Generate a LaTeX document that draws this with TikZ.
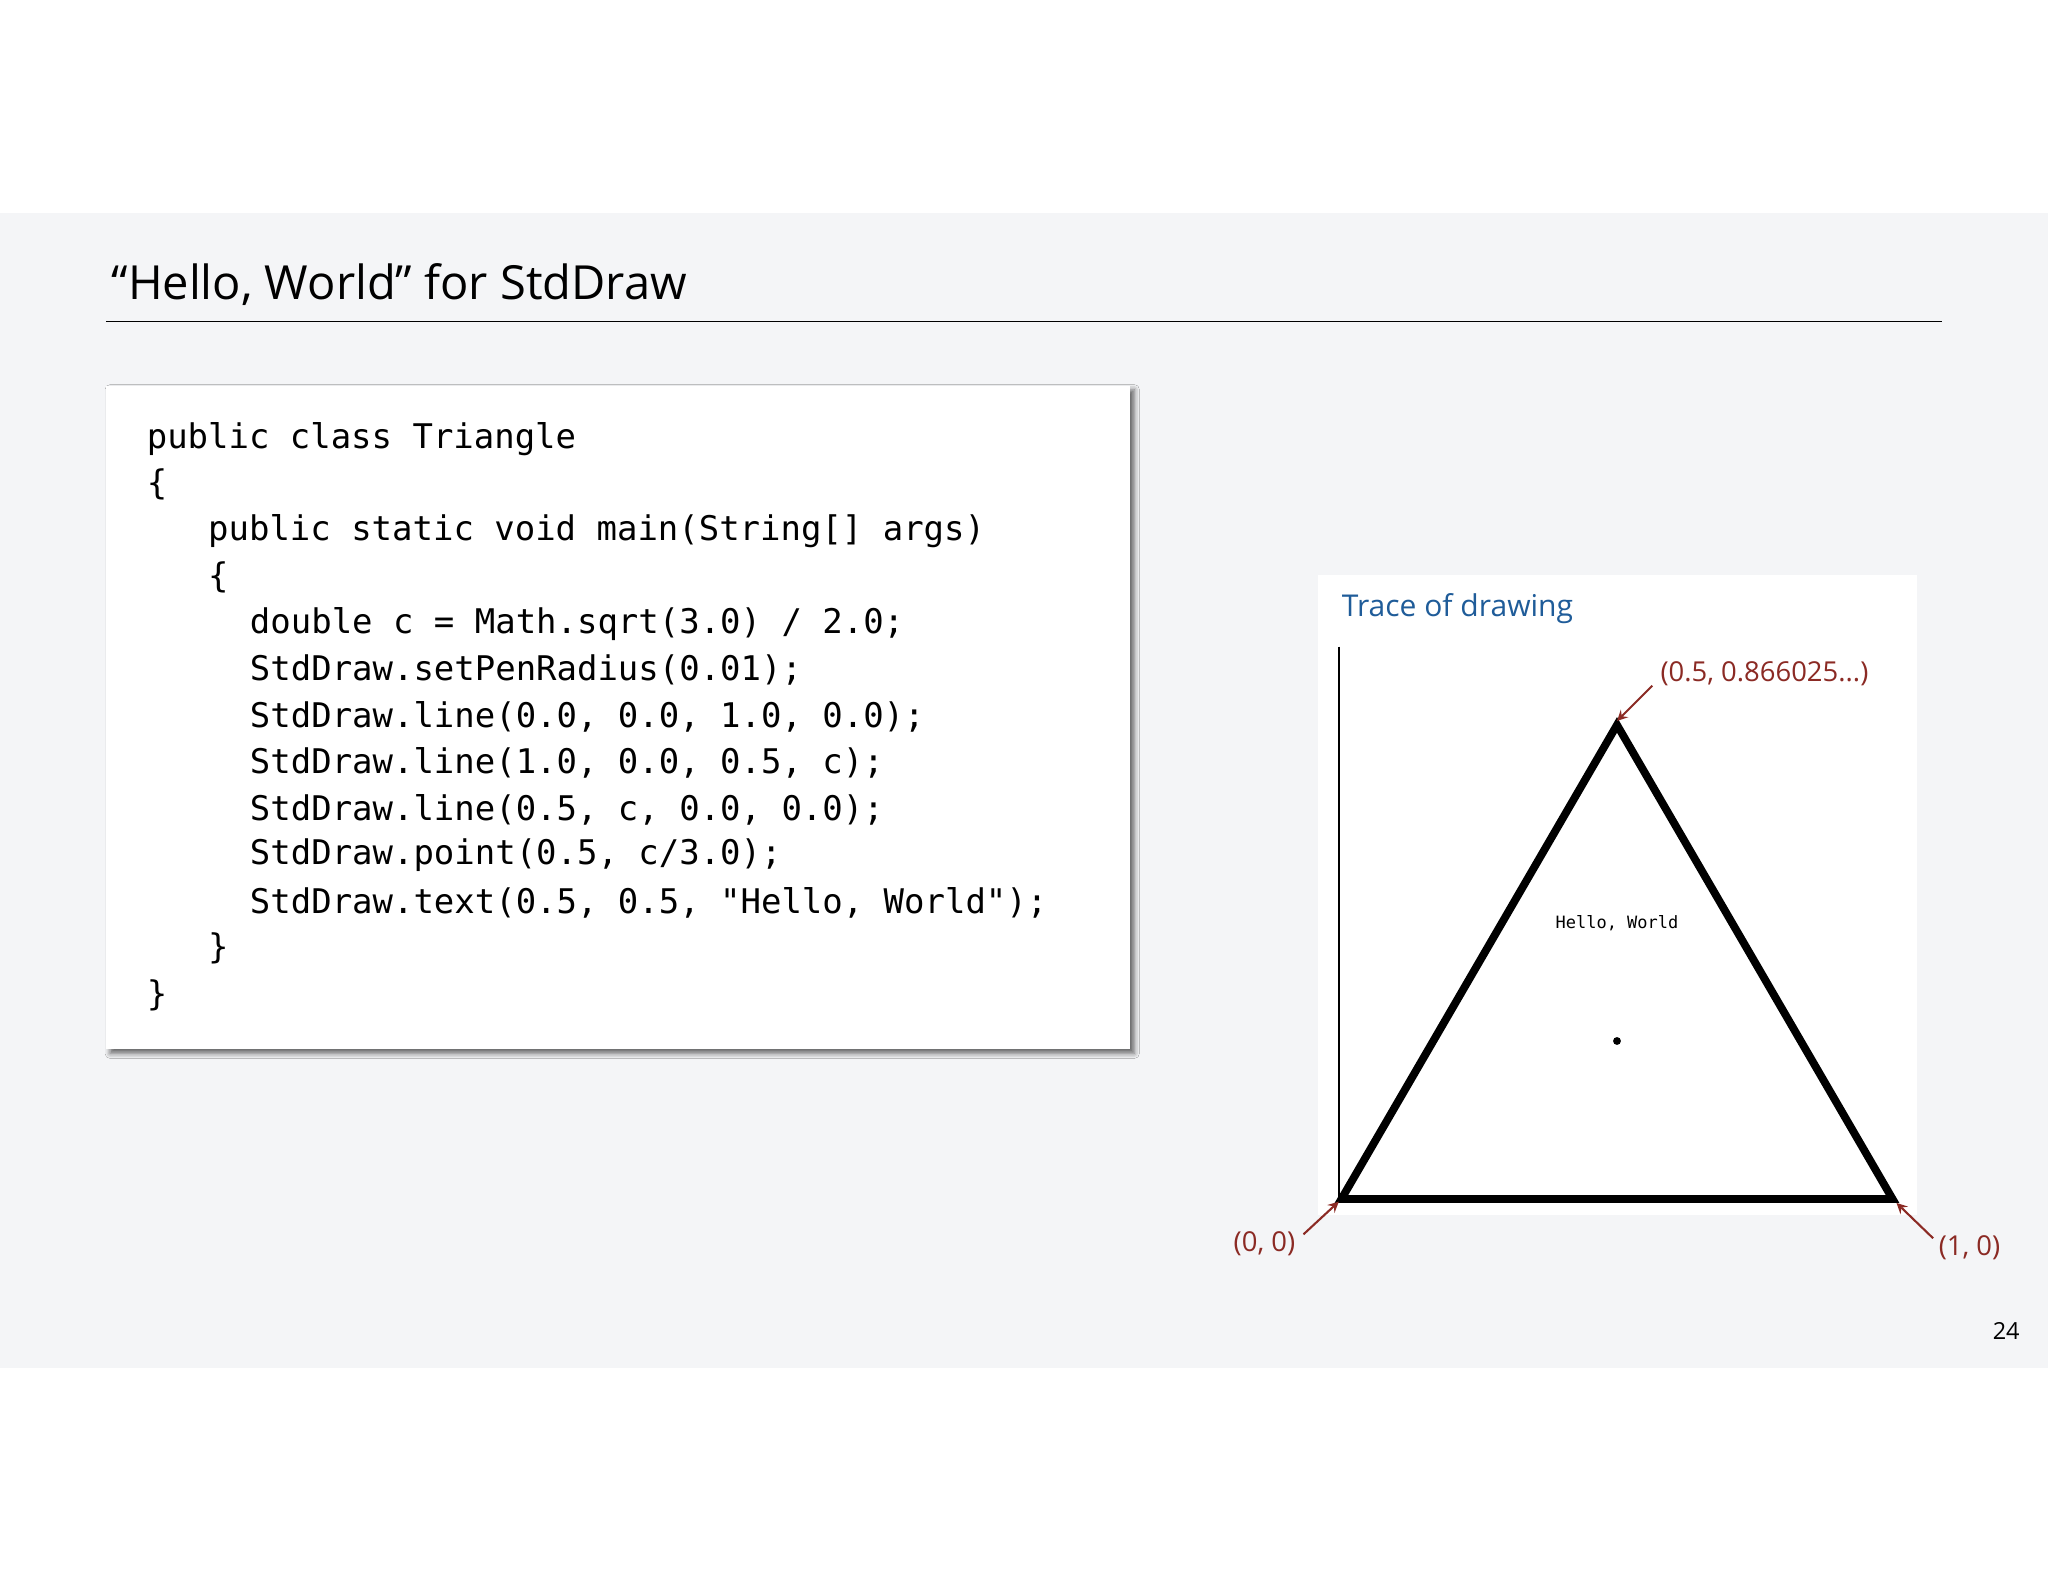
\documentclass[tikz,border=0pt]{standalone}
\usepackage{fontspec}
\setmainfont{Open Sans}
\setmonofont{DejaVu Sans Mono}
\usetikzlibrary{shadows.blur}
\definecolor{bg}{HTML}{F4F5F7}
\definecolor{lab}{HTML}{8B2A24}
\definecolor{ttl}{HTML}{1F5C99}
\begin{document}
\begin{tikzpicture}[x=0.5pt,y=-0.5pt,
  code/.style={anchor=west,font=\fontsize{13}{13}\ttfamily,inner sep=0},
  lbl/.style={font=\fontsize{10.5}{11}\selectfont,text=lab,inner sep=0},
  arr/.style={draw=lab,-stealth,thick}]
\useasboundingbox (0,0) rectangle (1568,1211);
\fill[white] (0,0) rectangle (1568,1211);
\fill[bg] (0,163) rectangle (1568,1047);
\node[anchor=west,inner sep=0,font=\fontsize{18}{18}\selectfont] (title) at (85,218) {“Hello, World” for StdDraw};
\draw[line width=0.6pt] (81,246) -- (1487,246);
\node[fill=white,blur shadow={shadow xshift=1.5pt,shadow yshift=-1.5pt,shadow blur radius=2pt,shadow opacity=60},minimum width=392pt,minimum height=254pt,inner sep=0,anchor=north west] (box) at (81,295) {};
\foreach \t/\x/\y in {{public class Triangle}/112/336,{\{}/112/371,{public static void main(String[] args)}/159/407,{\{}/159/442,{double c = Math.sqrt(3.0) / 2.0;}/191/478,{StdDraw.setPenRadius(0.01);}/191/513,{StdDraw.line(0.0, 0.0, 1.0, 0.0);}/191/549,{StdDraw.line(1.0, 0.0, 0.5, c);}/191/584,{StdDraw.line(0.5, c, 0.0, 0.0);}/191/620,{StdDraw.point(0.5, c/3.0);}/191/655,{StdDraw.text(0.5, 0.5, "Hello, World");}/191/691,{\}}/159/726,{\}}/112/762}
  \node[code] at (\x,\y) {\t};
\fill[white] (1009,440) rectangle (1468,930);
\node[anchor=west,inner sep=0,text=ttl,font=\fontsize{11.5}{12}\selectfont] (tr) at (1027,466) {Trace of drawing};
\draw[line width=0.8pt] (1025,495) -- (1025,918);
\coordinate (A) at (1027,918); \coordinate (B) at (1449,918); \coordinate (C) at (1238,555);
\draw[line width=3pt,line join=miter] (A) -- (B) -- (C) -- cycle;
\fill (1238,797) circle (3);
\node[font=\fontsize{6.5}{7}\ttfamily,inner sep=0] (hw) at (1238,707) {Hello, World};
\node[lbl,anchor=west] (l1) at (1271,516) {(0.5, 0.866025...)};
\node[lbl,anchor=east] (l0) at (992,952) {(0, 0)};
\node[lbl,anchor=west] (l2) at (1484,955) {(1, 0)};
\draw[arr] (1265,525) -- (1238,552);
\draw[arr] (998,945) -- (1025,920);
\draw[arr] (1480,948) -- (1452,921);
\node[inner sep=0,font=\fontsize{9}{9}\selectfont] (pg) at (1536,1019) {24};
\end{tikzpicture}
\end{document}
